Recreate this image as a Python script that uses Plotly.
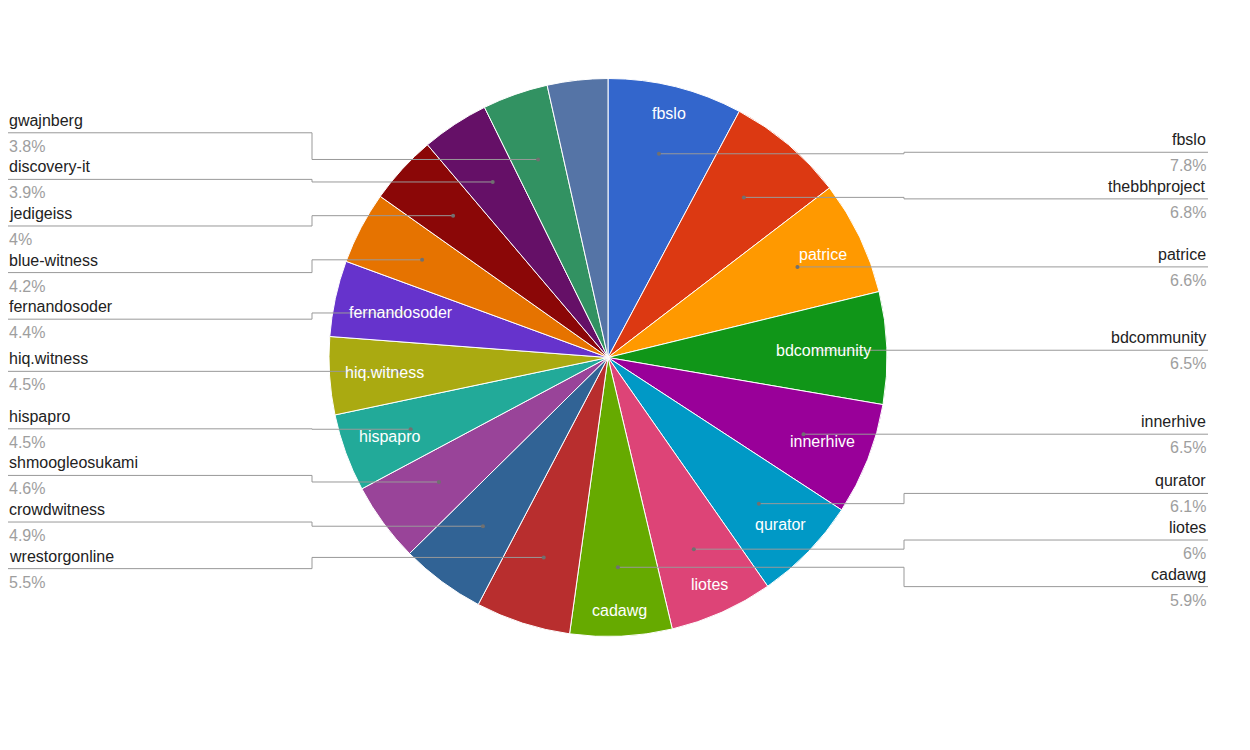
import math
import plotly.graph_objects as go

# slices, clockwise from 12 o'clock
names = ["fbslo", "thebbhproject", "patrice", "bdcommunity", "innerhive", "qurator",
         "liotes", "cadawg", "wrestorgonline", "crowdwitness", "shmoogleosukami",
         "hispapro", "hiq.witness", "fernandosoder", "blue-witness", "jedigeiss",
         "discovery-it", "gwajnberg", "others"]
values = [7.8, 6.8, 6.6, 6.5, 6.5, 6.1, 6.0, 5.9, 5.5, 4.9, 4.6, 4.5, 4.5, 4.4,
          4.2, 4.0, 3.9, 3.8, 3.5]
# slices that get their name written inside
inside_names = ["fbslo", "patrice", "bdcommunity", "innerhive", "qurator", "liotes",
                "cadawg", "hispapro", "hiq.witness", "fernandosoder"]
# slices that get a callout label (the last one has none)
callout_names = names[:-1]

colors = ["#3366cc", "#dc3912", "#ff9900", "#109618", "#990099", "#0099c6",
          "#dd4477", "#66aa00", "#b82e2e", "#316395", "#994499", "#22aa99",
          "#aaaa11", "#6633cc", "#e67300", "#8b0707", "#651067", "#329262",
          "#5574a6"]

W, H = 1250, 750
OFF = 8  # page body margin, positions below are in window pixels
CX, CY, R = 608, 357.5, 279
FONT = "Arial, Liberation Sans, sans-serif"
FS = 16

# Arial glyph widths (per 1000 em) for measuring label text
ARIAL = dict(a=556, b=556, c=500, d=556, e=556, f=278, g=556, h=556, i=222, j=222,
             k=500, l=222, m=833, n=556, o=556, p=556, q=556, r=333, s=500, t=278,
             u=556, v=500, w=722, x=500, y=500, z=500)
ARIAL["."] = 278
ARIAL["-"] = 333


def text_w(s, size):
    return sum(ARIAL.get(ch, 556) for ch in s) * size / 1000.0


def px(x):
    return (x - OFF) / W


def py(y):
    return 1 - (y - OFF) / H


def fmt_pct(v, total):
    return "{:g}%".format(round(v / total * 100, 1))


total = sum(values)
mid_angles = []
acc = 0.0
for v in values:
    mid_angles.append((acc + v / 2) / total * 2 * math.pi)
    acc += v

fig = go.Figure(go.Pie(
    labels=names, values=values, sort=False, direction="clockwise",
    marker=dict(colors=colors, line=dict(color="white", width=1)),
    textinfo="none", hoverinfo="label+percent",
    domain=dict(x=[px(CX - R), px(CX + R)], y=[py(CY + R), py(CY - R)]),
))

annotations = []
shapes = []

# names inside the slices, pushed out until the text box touches the rim
fit = 0.945 * R
for i, n in enumerate(names):
    if n not in inside_names:
        continue
    a = mid_angles[i]
    hw, hh = text_w(n, FS) / 2, FS / 2
    lo, hi = 0.0, R
    for _ in range(40):
        r = (lo + hi) / 2
        d = math.hypot(r * abs(math.sin(a)) + hw, r * abs(math.cos(a)) + hh)
        if d > fit:
            hi = r
        else:
            lo = r
    annotations.append(dict(
        x=px(CX + lo * math.sin(a)), y=py(CY - lo * math.cos(a)),
        xref="paper", yref="paper", text=n, showarrow=False,
        font=dict(family=FONT, size=FS, color="white"),
        xanchor="center", yanchor="middle"))


def spread(ys, gap):
    groups = [[y] for y in ys]
    while True:
        starts = [sum(g) / len(g) - gap * (len(g) - 1) / 2 for g in groups]
        merged = False
        for k in range(len(groups) - 1):
            end = starts[k] + gap * (len(groups[k]) - 1)
            if starts[k + 1] - end < gap:
                groups[k] = groups[k] + groups[k + 1]
                del groups[k + 1]
                merged = True
                break
        if not merged:
            break
    out = []
    for g, s in zip(groups, starts):
        out += [s + gap * j for j in range(len(g))]
    return out


# callout labels with elbow leader lines
GAP = 46.6
anchor_r = 210
sides = {"right": [], "left": []}
for i, n in enumerate(names):
    if n not in callout_names:
        continue
    a = mid_angles[i]
    ax, ay = CX + anchor_r * math.sin(a), CY - anchor_r * math.cos(a)
    sides["right" if math.sin(a) >= 0 else "left"].append((ay, ax, i))

for side, items in sides.items():
    items.sort()
    ly = spread([it[0] for it in items], GAP)
    if side == "right":
        elbow, tx, anchor = CX + R + 17, 1208, "right"
    else:
        elbow, tx, anchor = CX - R - 17, 7, "left"
    for (ay, ax, i), y in zip(items, ly):
        path = "M {} {} L {} {} L {} {} L {} {}".format(
            px(ax), py(ay), px(elbow), py(ay), px(elbow), py(y), px(tx), py(y))
        shapes.append(dict(type="path", path=path, xref="paper", yref="paper",
                           line=dict(color="#999999", width=1), layer="above"))
        shapes.append(dict(type="circle", xref="paper", yref="paper",
                           x0=px(ax - 2), x1=px(ax + 2),
                           y0=py(ay + 2), y1=py(ay - 2),
                           fillcolor="#707070", line=dict(width=0), layer="above"))
        annotations.append(dict(
            x=px(tx), y=py(y - 12.5), xref="paper", yref="paper", text=names[i],
            showarrow=False, xanchor=anchor, yanchor="middle",
            font=dict(family=FONT, size=FS, color="#222222")))
        annotations.append(dict(
            x=px(tx), y=py(y + 13.5), xref="paper", yref="paper",
            text=fmt_pct(values[i], total),
            showarrow=False, xanchor=anchor, yanchor="middle",
            font=dict(family=FONT, size=FS, color="#9e9e9e")))

fig.update_layout(
    width=W, height=H, margin=dict(l=0, r=0, t=0, b=0),
    paper_bgcolor="white", plot_bgcolor="white", showlegend=False,
    annotations=annotations, shapes=shapes,
)
fig.write_html("out.html")
